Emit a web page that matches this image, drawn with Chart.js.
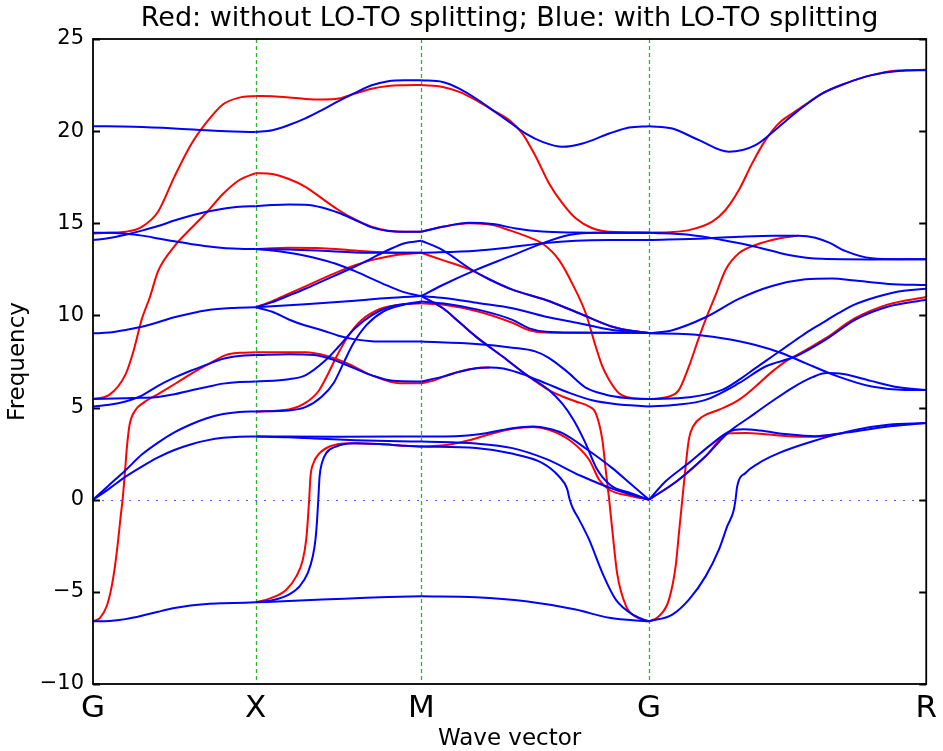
<!DOCTYPE html>
<html>
<head>
<meta charset="utf-8">
<script src="https://cdn.jsdelivr.net/npm/chart.js@4.4.1/dist/chart.umd.min.js"></script>
<style>
  html, body { margin: 0; padding: 0; background: #fff; }
</style>
</head>
<body>
<canvas id="bands" width="943" height="751"></canvas>
<script>
// high-symmetry points and their position along the path
const kLabels = ['G', 'X', 'M', 'G', 'R'];
const kPos = [0, 0.5, 1.009, 1.709, 2.561];
const freqTicks = [-10, -5, 0, 5, 10, 15, 20, 25];

// curves per segment: [fraction along segment, frequency]
const blueGX = [
  [[0,20.27],[0.25,20.24],[0.5,20.15],[0.75,20.02],[1,19.95]],
  [[0,14.09],[0.1,14.2],[0.2,14.38],[0.3,14.6],[0.4,14.85],[0.5,15.15],[0.6,15.41],[0.7,15.63],[0.8,15.79],[0.9,15.9],[1,15.93]],
  [[0,14.49],[0.1,14.49],[0.2,14.43],[0.3,14.33],[0.4,14.18],[0.5,14.02],[0.6,13.88],[0.7,13.75],[0.8,13.66],[0.9,13.62],[1,13.6]],
  [[0,9.03],[0.1,9.07],[0.2,9.21],[0.3,9.39],[0.4,9.63],[0.5,9.9],[0.6,10.11],[0.7,10.28],[0.85,10.4],[1,10.44]],
  [[0,5.47],[0.2,5.5],[0.3,5.53],[0.4,5.58],[0.5,5.72],[0.6,5.93],[0.7,6.12],[0.8,6.3],[0.9,6.39],[1,6.41]],
  [[0,5.06],[0.1,5.15],[0.2,5.33],[0.3,5.65],[0.4,6.18],[0.5,6.62],[0.6,7.0],[0.7,7.33],[0.8,7.65],[0.9,7.8],[1,7.85]],
  [[0,0],[0.1,0.8],[0.2,1.6],[0.3,2.45],[0.4,3.1],[0.5,3.65],[0.6,4.08],[0.7,4.42],[0.8,4.65],[0.9,4.76],[1,4.79]],
  [[0,0],[0.1,0.6],[0.2,1.25],[0.3,1.8],[0.4,2.3],[0.5,2.7],[0.6,3.0],[0.7,3.22],[0.8,3.36],[0.9,3.42],[1,3.43]],
  [[0,-6.6],[0.1,-6.58],[0.2,-6.48],[0.3,-6.3],[0.4,-6.08],[0.5,-5.88],[0.6,-5.74],[0.7,-5.66],[0.8,-5.62],[1,-5.57]]
];
const redGX = [
  [[0,14.45],[0.1,14.49],[0.2,14.54],[0.3,14.81],[0.4,15.63],[0.5,17.52],[0.6,19.24],[0.7,20.5],[0.8,21.46],[0.9,21.82],[1,21.91]],
  [[0,5.47],[0.1,5.69],[0.2,6.8],[0.25,8.1],[0.3,9.8],[0.35,11.0],[0.4,12.4],[0.5,13.75],[0.6,14.7],[0.7,15.6],[0.8,16.6],[0.9,17.35],[1,17.72]],
  [[0,-6.6],[0.043,-6.41],[0.084,-5.78],[0.115,-4.7],[0.135,-3.61],[0.155,-2.17],[0.17,-0.9],[0.182,0],[0.196,1.45],[0.21,3.0],[0.225,4.07],[0.26,4.85],[0.307,5.24],[0.41,5.78],[0.51,6.32],[0.61,6.87],[0.72,7.41],[0.82,7.86],[0.9,7.97],[1,8.0]]
];

const blueXM = [
  [[0,19.95],[0.1,20.05],[0.2,20.33],[0.3,20.69],[0.4,21.14],[0.5,21.63],[0.6,22.08],[0.7,22.49],[0.8,22.71],[0.9,22.76],[1,22.76]],
  [[0,15.93],[0.1,15.99],[0.2,16.02],[0.3,16.01],[0.4,15.86],[0.5,15.57],[0.6,15.18],[0.7,14.78],[0.8,14.58],[0.9,14.54],[1,14.54]],
  [[0,13.6],[0.2,13.58],[0.4,13.51],[0.6,13.42],[0.8,13.4],[1,13.4]],
  [[0,13.6],[0.1,13.52],[0.2,13.4],[0.3,13.24],[0.4,13.02],[0.5,12.75],[0.6,12.4],[0.7,12.0],[0.8,11.6],[0.9,11.25],[1,11.05]],
  [[0,10.44],[0.1,10.72],[0.2,11.08],[0.3,11.45],[0.4,11.85],[0.5,12.25],[0.6,12.65],[0.7,13.1],[0.8,13.55],[0.9,13.92],[1,14.05]],
  [[0,10.44],[0.3,10.6],[0.6,10.8],[0.8,10.95],[1,11.05]],
  [[0,10.44],[0.1,10.2],[0.2,9.78],[0.3,9.45],[0.4,9.2],[0.5,8.9],[0.6,8.7],[0.7,8.6],[0.8,8.58],[1,8.58]],
  [[0,7.85],[0.2,7.9],[0.35,7.85],[0.47,7.59],[0.57,7.23],[0.71,6.72],[0.83,6.45],[1,6.41]],
  [[0,6.41],[0.2,6.54],[0.3,6.75],[0.42,7.55],[0.5,8.3],[0.6,9.3],[0.7,10.0],[0.82,10.5],[1,10.7]],
  [[0,4.79],[0.2,4.84],[0.3,5.02],[0.4,5.6],[0.47,6.32],[0.53,7.41],[0.59,8.49],[0.67,9.49],[0.77,10.21],[0.89,10.57],[1,10.75]],
  [[0,3.43],[0.5,3.42],[1,3.43]],
  [[0,3.43],[0.2,3.39],[0.4,3.31],[0.6,3.23],[0.8,3.18],[1,3.16]],
  [[0,-5.57],[0.1,-5.46],[0.2,-5.15],[0.265,-4.7],[0.315,-3.97],[0.345,-3.07],[0.361,-2.17],[0.371,-1.08],[0.378,0],[0.386,1.26],[0.4,1.99],[0.426,2.53],[0.486,2.89],[0.6,3.07],[0.75,3.02],[0.9,2.93],[1,2.89]],
  [[0,-5.57],[0.2,-5.5],[0.4,-5.42],[0.6,-5.35],[0.8,-5.28],[1,-5.24]]
];
const redXM = [
  [[0,21.91],[0.1,21.89],[0.2,21.83],[0.3,21.75],[0.4,21.72],[0.5,21.77],[0.6,22.04],[0.7,22.3],[0.8,22.45],[0.9,22.49],[1,22.5]],
  [[0,17.72],[0.1,17.67],[0.2,17.4],[0.3,16.98],[0.4,16.35],[0.5,15.72],[0.6,15.21],[0.7,14.81],[0.8,14.6],[0.9,14.54],[1,14.54]],
  [[0,13.6],[0.2,13.67],[0.4,13.65],[0.6,13.52],[0.8,13.42],[1,13.4]],
  [[0,10.44],[0.1,10.78],[0.2,11.18],[0.3,11.58],[0.4,11.98],[0.5,12.38],[0.6,12.72],[0.7,13.0],[0.8,13.2],[0.9,13.33],[1,13.4]],
  [[0,8.0],[0.3,8.0],[0.43,7.8],[0.55,7.41],[0.71,6.72],[0.87,6.32],[1,6.32]],
  [[0,4.79],[0.2,4.9],[0.3,5.25],[0.38,5.9],[0.43,6.7],[0.49,7.8],[0.56,8.9],[0.64,9.75],[0.75,10.35],[0.88,10.6],[1,10.66]],
  [[0,-5.57],[0.084,-5.37],[0.185,-4.88],[0.245,-4.16],[0.285,-3.25],[0.305,-2.17],[0.315,-1.08],[0.323,0],[0.331,1.26],[0.349,1.99],[0.386,2.53],[0.446,2.89],[0.566,3.07],[0.75,3.02],[0.9,2.93],[1,2.89]]
];

const blueMG = [
  [[0,22.76],[0.094,22.67],[0.167,22.31],[0.24,21.77],[0.313,21.14],[0.386,20.5],[0.459,19.87],[0.532,19.42],[0.62,19.15],[0.708,19.33],[0.825,19.87],[0.912,20.2],[1,20.27]],
  [[0,14.54],[0.094,14.81],[0.211,15.03],[0.313,14.96],[0.415,14.72],[0.532,14.55],[0.678,14.5],[0.825,14.49],[1,14.49]],
  [[0,14.05],[0.094,13.55],[0.211,12.56],[0.3,11.95],[0.4,11.4],[0.547,10.84],[0.693,10.12],[0.839,9.39],[0.93,9.15],[1,9.05]],
  [[0,11.05],[0.094,11.65],[0.24,12.47],[0.386,13.19],[0.532,13.91],[0.649,14.36],[0.766,14.49],[1,14.49]],
  [[0,13.4],[0.24,13.51],[0.386,13.69],[0.532,13.91],[0.678,14.05],[0.825,14.09],[1,14.09]],
  [[0,11.05],[0.1,10.95],[0.254,10.66],[0.4,10.39],[0.547,9.93],[0.693,9.58],[0.839,9.21],[1,9.05]],
  [[0,10.75],[0.1,10.65],[0.254,10.3],[0.4,9.76],[0.474,9.3],[0.547,9.12],[0.693,9.07],[1,9.05]],
  [[0,8.58],[0.24,8.45],[0.4,8.25],[0.5,8.05],[0.56,7.7],[0.64,6.95],[0.72,6.1],[0.81,5.7],[0.9,5.52],[1,5.47]],
  [[0,6.41],[0.094,6.68],[0.17,6.95],[0.24,7.14],[0.3,7.18],[0.36,7.12],[0.46,6.75],[0.55,6.3],[0.65,5.8],[0.75,5.4],[0.85,5.2],[1,5.06]],
  [[0,11.05],[0.094,10.4],[0.17,9.6],[0.24,8.85],[0.357,7.77],[0.459,6.8],[0.56,5.95],[0.62,5.2],[0.67,4.3],[0.72,3.1],[0.77,1.7],[0.83,0.8],[0.92,0.35],[1,0]],
  [[0,3.43],[0.15,3.45],[0.254,3.55],[0.4,3.88],[0.49,3.97],[0.56,3.85],[0.62,3.61],[0.73,2.71],[0.84,1.7],[0.92,0.85],[1,0]],
  [[0,3.16],[0.24,3.05],[0.4,2.8],[0.55,2.2],[0.7,1.3],[0.85,0.55],[1,0]],
  [[0,2.89],[0.24,2.8],[0.386,2.53],[0.532,1.99],[0.605,1.26],[0.64,0.6],[0.652,0.0],[0.665,-0.45],[0.693,-1.08],[0.737,-2.17],[0.795,-3.97],[0.854,-5.42],[0.941,-6.32],[1,-6.6]],
  [[0,-5.24],[0.24,-5.29],[0.459,-5.51],[0.678,-5.96],[0.825,-6.41],[1,-6.6]]
];
const redMG = [
  [[0,22.5],[0.094,22.4],[0.167,22.13],[0.24,21.68],[0.313,21.14],[0.386,20.6],[0.444,19.87],[0.503,18.61],[0.561,17.16],[0.62,16.08],[0.678,15.27],[0.751,14.73],[0.825,14.54],[1,14.49]],
  [[0,14.54],[0.094,14.81],[0.211,15.0],[0.313,14.9],[0.386,14.63],[0.46,14.3],[0.532,13.9],[0.605,13.0],[0.664,11.7],[0.722,10.12],[0.766,8.31],[0.795,7.23],[0.825,6.5],[0.868,5.78],[0.927,5.51],[1,5.46]],
  [[0,13.4],[0.094,13.0],[0.211,12.5],[0.3,11.95],[0.4,11.4],[0.547,10.84],[0.693,10.12],[0.839,9.39],[0.93,9.15],[1,9.05]],
  [[0,10.66],[0.1,10.58],[0.254,10.2],[0.4,9.6],[0.474,9.2],[0.547,9.07],[0.693,9.05],[1,9.05]],
  [[0,6.32],[0.05,6.45],[0.12,6.78],[0.2,7.05],[0.24,7.14],[0.3,7.18]],
  [[0,11.05],[0.094,10.4],[0.17,9.6],[0.24,8.85],[0.357,7.77],[0.459,6.8],[0.56,5.95],[0.62,5.6],[0.678,5.33],[0.737,5.06],[0.766,4.7],[0.795,3.25],[0.81,1.6],[0.825,0],[0.84,-1.8],[0.86,-4.0],[0.9,-5.8],[0.95,-6.4],[1,-6.6]],
  [[0,2.89],[0.1,2.95],[0.2,3.2],[0.3,3.55],[0.4,3.85],[0.49,3.95],[0.56,3.8],[0.649,3.25],[0.737,2.17],[0.781,1.08],[0.825,0.54],[0.92,0.2],[1,0]]
];

const blueGR = [
  [[0,20.27],[0.084,20.14],[0.18,19.51],[0.288,18.88],[0.384,19.24],[0.468,20.23],[0.54,21.14],[0.624,22.04],[0.707,22.58],[0.803,23.04],[0.899,23.27],[1,23.31]],
  [[0,14.09],[0.204,14.18],[0.324,14.27],[0.45,14.33],[0.54,14.33],[0.6,14.22],[0.65,13.95],[0.707,13.5],[0.803,13.1],[0.9,13.05],[1,13.05]],
  [[0,14.49],[0.144,14.38],[0.264,14.09],[0.384,13.73],[0.504,13.28],[0.624,13.07],[0.8,13.04],[1,13.05]],
  [[0,9.03],[0.084,9.2],[0.204,9.9],[0.324,10.9],[0.444,11.6],[0.564,11.96],[0.66,12.01],[0.743,11.89],[0.863,11.71],[1,11.65]],
  [[0,9.03],[0.144,8.98],[0.264,8.76],[0.384,8.4],[0.48,7.95],[0.564,7.41],[0.683,6.68],[0.803,6.14],[0.923,5.96],[1,5.96]],
  [[0,5.46],[0.144,5.56],[0.264,5.96],[0.324,6.5],[0.384,7.14],[0.444,7.77],[0.504,8.4],[0.564,9.03],[0.624,9.58],[0.683,10.12],[0.743,10.6],[0.82,11.0],[0.9,11.3],[1,11.45]],
  [[0,5.06],[0.1,5.15],[0.204,5.42],[0.324,6.32],[0.42,7.23],[0.528,7.77],[0.636,8.67],[0.743,9.76],[0.863,10.48],[1,10.85]],
  [[0,0],[0.1,1.0],[0.2,2.3],[0.29,3.7],[0.36,4.45],[0.44,5.3],[0.52,6.1],[0.59,6.65],[0.64,6.87],[0.7,6.82],[0.8,6.45],[0.9,6.1],[1,5.96]],
  [[0,0],[0.06,1.0],[0.144,2.0],[0.22,2.95],[0.29,3.7],[0.34,3.82],[0.4,3.75],[0.5,3.55],[0.6,3.45],[0.7,3.62],[0.85,3.95],[1,4.16]],
  [[0,-6.6],[0.084,-6.23],[0.144,-5.42],[0.204,-4.16],[0.252,-2.71],[0.282,-1.45],[0.306,-0.54],[0.312,0],[0.318,0.72],[0.348,1.45],[0.396,1.99],[0.468,2.53],[0.588,3.16],[0.743,3.79],[0.863,4.07],[1,4.16]]
];
const redGR = [
  [[0,14.49],[0.07,14.52],[0.144,14.63],[0.228,15.09],[0.276,15.72],[0.324,16.8],[0.372,18.25],[0.42,19.51],[0.468,20.42],[0.516,20.96],[0.56,21.4],[0.624,22.04],[0.707,22.58],[0.803,23.04],[0.899,23.29],[1,23.33]],
  [[0,5.46],[0.072,5.6],[0.108,5.96],[0.144,7.23],[0.18,8.8],[0.21,10.0],[0.24,11.1],[0.276,12.47],[0.324,13.37],[0.384,13.82],[0.468,14.18],[0.54,14.33]],
  [[0,-6.6],[0.036,-6.32],[0.072,-5.42],[0.096,-3.61],[0.108,-1.8],[0.12,0],[0.132,1.8],[0.144,3.3],[0.16,4.0],[0.192,4.5],[0.252,4.88],[0.324,5.42],[0.384,6.14],[0.444,6.95],[0.504,7.62],[0.528,7.8],[0.636,8.75],[0.743,9.85],[0.863,10.6],[1,11.0]],
  [[0,0],[0.1,1.0],[0.2,2.3],[0.29,3.6],[0.35,3.62],[0.42,3.55],[0.5,3.45],[0.6,3.42],[0.7,3.6]]
];

const segments = [
  { blue: blueGX, red: redGX },
  { blue: blueXM, red: redXM },
  { blue: blueMG, red: redMG },
  { blue: blueGR, red: redGR }
];

function toPoints(seg, curve) {
  const a = kPos[seg], b = kPos[seg + 1];
  return curve.map(([f, v]) => ({ x: a + f * (b - a), y: v }));
}

const datasets = [];
segments.forEach((s, i) => {
  s.blue.forEach(c => datasets.push({ data: toPoints(i, c), borderColor: '#0000ff', order: 0 }));
  s.red.forEach(c => datasets.push({ data: toPoints(i, c), borderColor: '#ff0000', order: 1 }));
});

// guide lines under the bands, frame and inward ticks over them
const framePlugin = {
  id: 'frame',
  beforeDatasetsDraw(chart) {
    const { ctx, chartArea: a, scales: { x, y } } = chart;
    ctx.save();
    ctx.strokeStyle = '#2cb82c';
    ctx.lineWidth = 1.3;
    ctx.setLineDash([4, 3]);
    kPos.slice(1, -1).forEach(k => {
      const px = Math.round(x.getPixelForValue(k)) + 0.5;
      ctx.beginPath();
      ctx.moveTo(px, a.top);
      ctx.lineTo(px, a.bottom);
      ctx.stroke();
    });
    ctx.strokeStyle = '#5a5aff';
    ctx.lineWidth = 1.2;
    ctx.setLineDash([2, 7]);
    const y0 = Math.round(y.getPixelForValue(0)) + 0.5;
    ctx.beginPath();
    ctx.moveTo(a.left, y0);
    ctx.lineTo(a.right, y0);
    ctx.stroke();
    ctx.restore();
  },
  afterDatasetsDraw(chart) {
    const { ctx, chartArea: a, scales: { y } } = chart;
    ctx.save();
    ctx.strokeStyle = '#000';
    ctx.lineWidth = 1.8;
    freqTicks.forEach(v => {
      const py = Math.round(y.getPixelForValue(v)) + 0.5;
      ctx.beginPath();
      ctx.moveTo(a.left, py); ctx.lineTo(a.left + 7, py);
      ctx.moveTo(a.right, py); ctx.lineTo(a.right - 7, py);
      ctx.stroke();
    });
    ctx.strokeRect(a.left, a.top, a.right - a.left, a.bottom - a.top);
    ctx.restore();
  }
};

const font = 'DejaVu Sans';

new Chart(document.getElementById('bands'), {
  type: 'line',
  data: { datasets: datasets },
  plugins: [framePlugin],
  options: {
    responsive: false,
    animation: false,
    devicePixelRatio: 1,
    layout: { padding: { left: 0, right: 15, top: 0, bottom: 0 } },
    elements: {
      point: { radius: 0 },
      line: { borderWidth: 2, cubicInterpolationMode: 'monotone', fill: false }
    },
    plugins: {
      legend: { display: false },
      tooltip: { enabled: false },
      title: {
        display: true,
        fullSize: false,
        text: 'Red: without LO-TO splitting; Blue: with LO-TO splitting',
        color: '#000',
        font: { family: font, size: 27, weight: 'normal' },
        padding: { top: 3, bottom: 3.6 }
      }
    },
    scales: {
      x: {
        type: 'linear',
        min: 0,
        max: kPos[kPos.length - 1],
        grid: { display: false, drawTicks: false },
        border: { display: false },
        afterBuildTicks: s => { s.ticks = kPos.map(v => ({ value: v })); },
        afterFit: s => { s.height = 67; },
        ticks: {
          autoSkip: false,
          maxRotation: 0,
          padding: 6,
          color: '#000',
          font: { family: font, size: 31 },
          callback: (v, i) => kLabels[i]
        },
        title: {
          display: true,
          text: 'Wave vector',
          color: '#000',
          font: { family: font, size: 23 },
          padding: { top: 0, bottom: -2 }
        }
      },
      y: {
        min: -10,
        max: 25,
        grid: { display: false, drawTicks: false },
        border: { display: false },
        afterBuildTicks: s => { s.ticks = freqTicks.map(v => ({ value: v })); },
        afterFit: s => { s.width = 93; },
        ticks: {
          padding: 9,
          color: '#000',
          font: { family: font, size: 21 },
          callback: v => (v < 0 ? '\u2212' + Math.abs(v) : String(v))
        },
        title: {
          display: true,
          text: 'Frequency',
          color: '#000',
          font: { family: font, size: 23 },
          padding: { top: 4, bottom: 0 }
        }
      }
    }
  }
});
</script>
</body>
</html>
